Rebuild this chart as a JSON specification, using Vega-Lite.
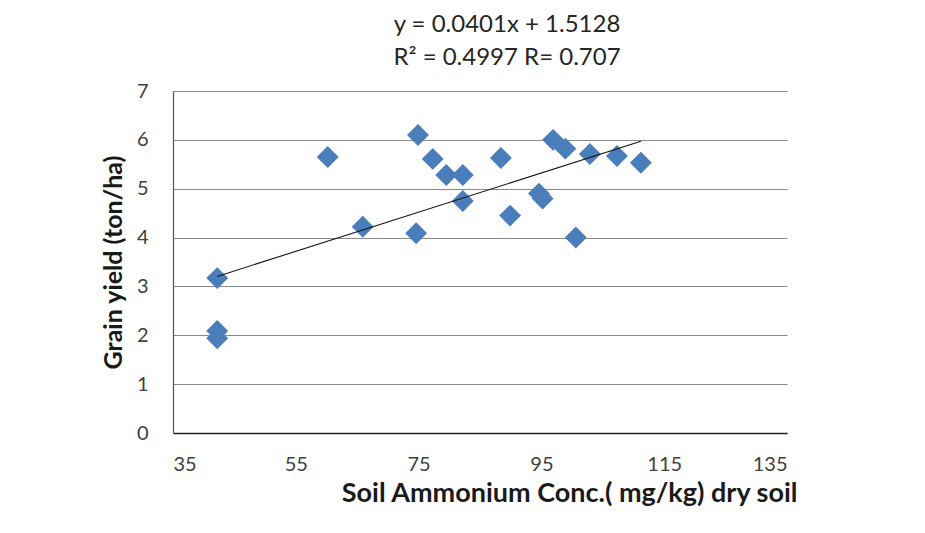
{
  "$schema": "https://vega.github.io/schema/vega-lite/v6.json",
  "width": 614,
  "height": 342,
  "autosize": {"type": "none"},
  "padding": {"left": 173, "top": 91, "right": 138, "bottom": 100},
  "background": "white",
  "config": {
    "view": {"stroke": null},
    "font": "Lato"
  },
  "title": {
    "text": ["y = 0.0401x + 1.5128", "R² = 0.4997 R= 0.707"],
    "anchor": "middle",
    "dx": 27,
    "offset": 11,
    "fontSize": 24,
    "fontWeight": "normal",
    "font": "Lato",
    "color": "#262626",
    "lineHeight": 33
  },
  "datasets": {
    "points": [
      {"ammonium": 42.2, "yield": 3.17},
      {"ammonium": 42.2, "yield": 2.09},
      {"ammonium": 42.2, "yield": 1.94},
      {"ammonium": 60.2, "yield": 5.65},
      {"ammonium": 65.9, "yield": 4.22},
      {"ammonium": 74.9, "yield": 6.1},
      {"ammonium": 74.6, "yield": 4.09},
      {"ammonium": 77.3, "yield": 5.61},
      {"ammonium": 79.5, "yield": 5.28},
      {"ammonium": 82.2, "yield": 5.28},
      {"ammonium": 82.2, "yield": 4.75},
      {"ammonium": 88.4, "yield": 5.63},
      {"ammonium": 89.9, "yield": 4.45},
      {"ammonium": 94.6, "yield": 4.9},
      {"ammonium": 95.2, "yield": 4.8},
      {"ammonium": 96.9, "yield": 6.0},
      {"ammonium": 98.9, "yield": 5.82},
      {"ammonium": 102.9, "yield": 5.71},
      {"ammonium": 100.6, "yield": 4.0},
      {"ammonium": 107.3, "yield": 5.67},
      {"ammonium": 111.2, "yield": 5.53}
    ],
    "trend": [
      {"ammonium": 42.2, "yield": 3.205},
      {"ammonium": 111.2, "yield": 5.972}
    ]
  },
  "layer": [
    {
      "data": {"name": "points"},
      "mark": {"type": "point", "shape": "diamond", "filled": true, "size": 480, "color": "#4A7EBB", "opacity": 1},
      "encoding": {
        "x": {
          "field": "ammonium",
          "type": "quantitative",
          "scale": {"domain": [35, 135], "nice": false, "zero": false},
          "axis": {
            "values": [35, 55, 75, 95, 115, 135],
            "grid": false,
            "ticks": false,
            "domainColor": "#222222",
            "domainWidth": 1.5,
            "labelFontSize": 20,
            "labelColor": "#404040",
            "labelBaseline": "middle",
            "labelPadding": 31,
            "title": "Soil Ammonium Conc.( mg/kg) dry soil",
            "titleFontSize": 27,
            "titleFontWeight": "bold",
            "titleColor": "#1a1a1a",
            "titleAlign": "right",
            "titleAnchor": null,
            "titleX": 624,
            "titleY": 68,
            "titleBaseline": "alphabetic"
          }
        },
        "y": {
          "field": "yield",
          "type": "quantitative",
          "scale": {"domain": [0, 7], "nice": false},
          "axis": {
            "values": [0, 1, 2, 3, 4, 5, 6, 7],
            "grid": true,
            "gridColor": "#8A8A8A",
            "gridWidth": 1.2,
            "ticks": false,
            "domainColor": "#555555",
            "domainWidth": 1.2,
            "labelFontSize": 20,
            "labelColor": "#404040",
            "labelPadding": 25,
            "title": "Grain yield (ton/ha)",
            "titleFontSize": 25,
            "titleFontWeight": "bold",
            "titleColor": "#1a1a1a",
            "titleX": -60,
            "titleY": 171,
            "titleAlign": "center",
            "titleBaseline": "middle",
            "titleAngle": -90
          }
        }
      }
    },
    {
      "data": {"name": "trend"},
      "mark": {"type": "line", "color": "#111111", "strokeWidth": 1.1},
      "encoding": {
        "x": {"field": "ammonium", "type": "quantitative"},
        "y": {"field": "yield", "type": "quantitative"}
      }
    }
  ]
}
